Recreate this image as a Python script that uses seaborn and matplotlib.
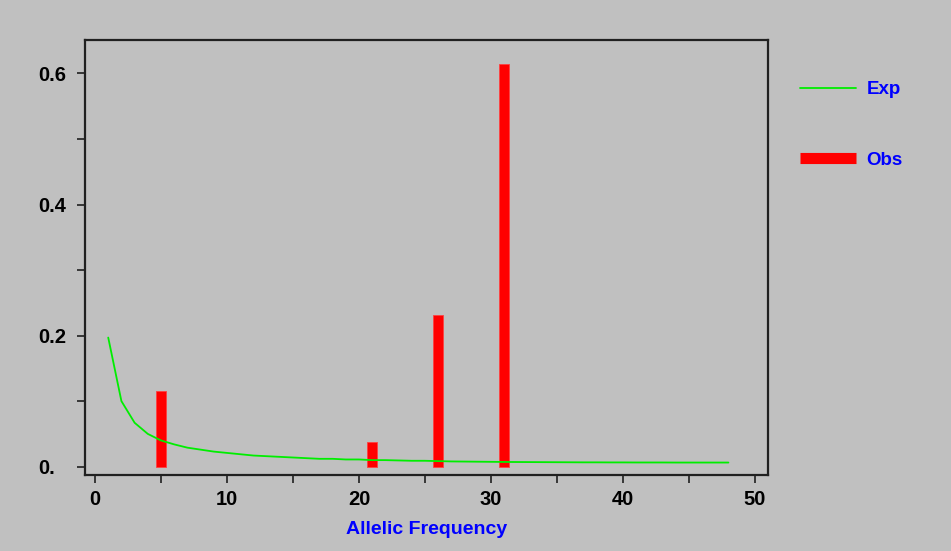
import matplotlib
matplotlib.use("Agg")
import matplotlib.pyplot as plt
import seaborn as sns
import pandas as pd
from matplotlib.lines import Line2D
from matplotlib.ticker import MultipleLocator

# --- dados ---
exp_x = list(range(1, 49))
exp_y = [0.197, 0.100, 0.067, 0.050, 0.040, 0.034, 0.029, 0.026, 0.023, 0.021,
         0.019, 0.017, 0.016, 0.015, 0.014, 0.013, 0.012, 0.012, 0.011, 0.011,
         0.010, 0.010, 0.0095, 0.009, 0.009, 0.0085, 0.008, 0.0078, 0.0076, 0.0074,
         0.0072, 0.0071, 0.0070, 0.0069, 0.0068, 0.0067, 0.0066, 0.0066, 0.0065, 0.0065,
         0.0064, 0.0064, 0.0064, 0.0063, 0.0063, 0.0063, 0.0063, 0.0063]
obs_x = [5, 21, 26, 31]
obs_y = [0.115, 0.038, 0.231, 0.615]
x_ticks = [0, 10, 20, 30, 40, 50]
y_ticks = [0.0, 0.2, 0.4, 0.6]
y_tick_labels = ["0.", "0.2", "0.4", "0.6"]

BG = "#c0c0c0"
FONT = ["Liberation Sans", "DejaVu Sans"]

sns.set_theme(style="white")
plt.rcParams["font.family"] = FONT

fig = plt.figure(figsize=(9.51, 5.51), dpi=100, facecolor=BG)
ax = fig.add_axes([85 / 951, 76 / 551, 683 / 951, 435 / 551], facecolor=BG)

ax.bar(obs_x, obs_y, width=0.75, color="#ff0000", edgecolor="#ff4040",
       linewidth=0.6, zorder=2)

exp_df = pd.DataFrame({"x": exp_x, "y": exp_y})
sns.lineplot(data=exp_df, x="x", y="y", color="#00ee00", linewidth=1.3,
             ax=ax, zorder=3)

ax.set_xlim(-0.76, 51.0)
ax.set_ylim(-0.0127, 0.651)

ax.set_xticks(x_ticks)
ax.xaxis.set_minor_locator(MultipleLocator(5))
ax.set_yticks(y_ticks)
ax.set_yticklabels(y_tick_labels)
ax.yaxis.set_minor_locator(MultipleLocator(0.1))

for side in ["left", "bottom", "top", "right"]:
    ax.spines[side].set_visible(True)
    ax.spines[side].set_color("#202020")
    ax.spines[side].set_linewidth(1.6)

ax.tick_params(axis="both", which="both", direction="out", length=5.5,
               width=1.2, color="#202020", left=True, bottom=True,
               top=False, right=False)
ax.tick_params(axis="x", which="major", pad=5, labelsize=14.5)
ax.tick_params(axis="y", which="major", pad=28, labelsize=14.5)
for lab in ax.get_xticklabels() + ax.get_yticklabels():
    lab.set_fontweight("bold")
    lab.set_color("black")
for lab in ax.get_yticklabels():
    lab.set_horizontalalignment("left")

ax.set_xlabel("Allelic Frequency", color="blue", fontsize=14,
              fontweight="bold", labelpad=9)
ax.set_ylabel("")

handles = [Line2D([], [], color="#00ee00", linewidth=1.3),
           Line2D([], [], color="#ff0000", linewidth=8, solid_capstyle="butt")]
leg = fig.legend(handles, ["Exp", "Obs"], loc="upper left",
                 bbox_to_anchor=(800 / 951, 1 - 81 / 551),
                 frameon=False, borderpad=0, borderaxespad=0,
                 handlelength=3.0, handletextpad=0.55, labelspacing=2.85,
                 prop={"weight": "bold", "size": 13.5, "family": FONT})
for t in leg.get_texts():
    t.set_color("blue")

fig.savefig("out.png", dpi=100, facecolor=BG)
